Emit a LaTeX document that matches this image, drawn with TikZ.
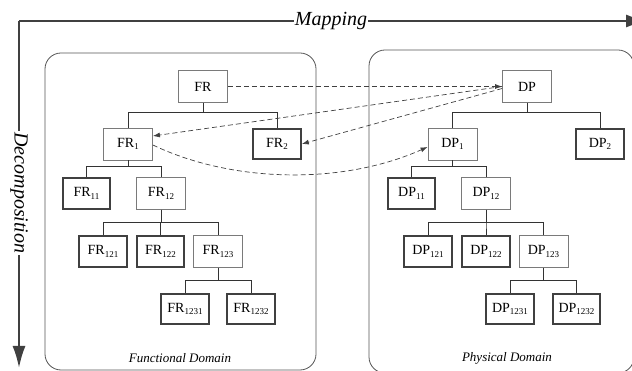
\documentclass[tikz,border=0pt]{standalone}
\usepackage{fontspec}
\setmainfont{Liberation Serif}
\usetikzlibrary{arrows.meta,calc}
\definecolor{boxgray}{HTML}{7A7A7A}
\definecolor{dkgray}{HTML}{404040}
\definecolor{linegray}{HTML}{333333}
\definecolor{domgray}{HTML}{555555}
\newcommand{\sbs}[1]{\raisebox{-2.5pt}{\fontsize{9}{9}\selectfont #1}}
\tikzset{
  fbox/.style={draw=boxgray, line width=0.8pt, minimum width=49pt, minimum height=32pt, inner sep=0pt, font=\fontsize{14}{16}\selectfont},
  leafbox/.style={fbox, draw=dkgray, line width=2.2pt, minimum width=47.5pt, minimum height=30.5pt},
  tree/.style={draw=linegray, line width=0.8pt},
  dom/.style={draw=domgray, line width=0.8pt, rounded corners=16pt},
  mainarrow/.style={draw=dkgray, line width=2.2pt, -{Latex[length=22pt,width=13pt]}},
  maplink/.style={draw=dkgray, line width=0.7pt, dash pattern=on 5pt off 3pt, -{Latex[length=7pt,width=5pt]}},
  axislabel/.style={fill=white, inner sep=1pt, font=\fontsize{20}{22}\selectfont\itshape},
  domlabel/.style={font=\fontsize{13}{15}\selectfont\itshape}
}
\begin{document}
\begin{tikzpicture}[x=1pt,y=-1pt]
\useasboundingbox (0,0) rectangle (632,371);
% domains
\draw[dom] (45,53) rectangle (316,370);
\draw[dom] (369,50) rectangle (634,373);
\node[domlabel] (fdom) at (180,358) {Functional Domain};
\node[domlabel] (pdom) at (507,358) {Physical Domain};
% axes
\coordinate (origin) at (19,21);
\coordinate (mapend) at (648,21);
\coordinate (decend) at (19,368);
\draw[mainarrow] (origin) -- (mapend);
\draw[mainarrow] (origin) -- (decend);
\node[axislabel] (maplabel) at (331,21) {Mapping};
\node[axislabel, rotate=-90] (declabel) at (19,193) {Decomposition};
% FR tree
\node[fbox] (FR) at (203,86.5) {FR};
\node[fbox] (FR1) at (128,144) {FR\sbs{1}};
\node[leafbox] (FR2) at (277,144) {FR\sbs{2}};
\node[leafbox] (FR11) at (86.5,193.5) {FR\sbs{11}};
\node[fbox] (FR12) at (161,193.5) {FR\sbs{12}};
\node[leafbox] (FR121) at (103,251.5) {FR\sbs{121}};
\node[leafbox] (FR122) at (160.5,251.5) {FR\sbs{122}};
\node[fbox] (FR123) at (218,251.5) {FR\sbs{123}};
\node[leafbox] (FR1231) at (185,309) {FR\sbs{1231}};
\node[leafbox] (FR1232) at (251,309) {FR\sbs{1232}};
% DP tree
\node[fbox] (DP) at (527,86.5) {DP};
\node[fbox] (DP1) at (452.5,144) {DP\sbs{1}};
\node[leafbox] (DP2) at (600,144) {DP\sbs{2}};
\node[leafbox] (DP11) at (411.5,193.5) {DP\sbs{11}};
\node[fbox] (DP12) at (486,193.5) {DP\sbs{12}};
\node[leafbox] (DP121) at (428,251.5) {DP\sbs{121}};
\node[leafbox] (DP122) at (486,251.5) {DP\sbs{122}};
\node[fbox] (DP123) at (543.5,251.5) {DP\sbs{123}};
\node[leafbox] (DP1231) at (510,309) {DP\sbs{1231}};
\node[leafbox] (DP1232) at (576.5,309) {DP\sbs{1232}};
% tree connectors FR
\draw[tree] (FR.south) -- ++(0,10) -| (FR1.north);
\draw[tree] (FR.south) -- ++(0,10) -| (FR2.north);
\draw[tree] (FR1.south) -- ++(0,6) -| (FR11.north);
\draw[tree] (FR1.south) -- ++(0,6) -| (FR12.north);
\draw[tree] (FR12.south) -- ++(0,13) -| (FR121.north);
\draw[tree] (FR12.south) -- ++(0,13) -| (FR122.north);
\draw[tree] (FR12.south) -- ++(0,13) -| (FR123.north);
\draw[tree] (FR123.south) -- ++(0,13) -| (FR1231.north);
\draw[tree] (FR123.south) -- ++(0,13) -| (FR1232.north);
% tree connectors DP
\draw[tree] (DP.south) -- ++(0,10) -| (DP1.north);
\draw[tree] (DP.south) -- ++(0,10) -| (DP2.north);
\draw[tree] (DP1.south) -- ++(0,6) -| (DP11.north);
\draw[tree] (DP1.south) -- ++(0,6) -| (DP12.north);
\draw[tree] (DP12.south) -- ++(0,13) -| (DP121.north);
\draw[tree] (DP12.south) -- ++(0,13) -| (DP122.north);
\draw[tree] (DP12.south) -- ++(0,13) -| (DP123.north);
\draw[tree] (DP123.south) -- ++(0,13) -| (DP1231.north);
\draw[tree] (DP123.south) -- ++(0,13) -| (DP1232.north);
% mapping links
\draw[maplink] (FR.east) -- (DP.west);
\draw[maplink] (DP.west) -- ([yshift=8pt]FR1.east);
\draw[maplink] ([yshift=-2pt]DP.west) -- (FR2.east);
\draw[maplink] ([yshift=-1pt]FR1.east) .. controls (230,182) and (340,186) .. ([yshift=-3pt]DP1.west);
\end{tikzpicture}
\end{document}
